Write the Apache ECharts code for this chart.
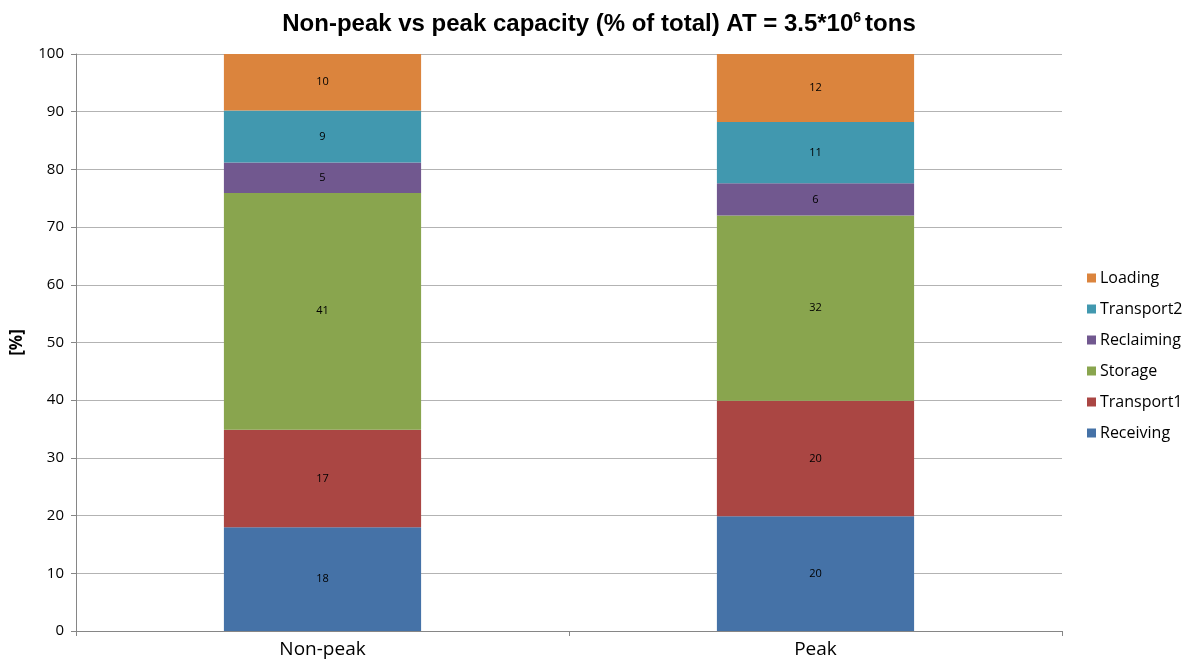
<!DOCTYPE html>
<html>
<head>
<meta charset="utf-8">
<script src="https://cdn.jsdelivr.net/npm/echarts@6/dist/echarts.min.js"></script>
<style>
html,body{margin:0;padding:0;background:#fff;}
#chart{width:1198px;height:667px;}
</style>
</head>
<body>
<div id="chart"></div>
<script>
const categories = ['Non-peak', 'Peak'];
const seriesNames = ['Receiving', 'Transport1', 'Storage', 'Reclaiming', 'Transport2', 'Loading'];
const receiving = [18.0, 19.9];
const transport1 = [16.9, 20.0];
const storage = [41.0, 32.1];
const reclaiming = [5.3, 5.6];
const transport2 = [9.0, 10.6];
const loading = [9.8, 11.8];
const yTicks = [0, 10, 20, 30, 40, 50, 60, 70, 80, 90, 100];

const colors = ['#4572A7', '#AA4643', '#89A54E', '#71588F', '#4198AF', '#DB843D'];
const values = [receiving, transport1, storage, reclaiming, transport2, loading];
const font = '"Open Sans", "Noto Sans", sans-serif';
const narrow = '"Liberation Sans Narrow", sans-serif';

const chart = echarts.init(document.getElementById('chart'));
chart.setOption({
  animation: false,
  backgroundColor: '#fff',
  title: {
    text: 'Non-peak vs peak capacity (% of total) AT = 3.5*10{sup|6}tons',
    left: 'center',
    top: 6,
    textStyle: {
      fontFamily: narrow,
      fontWeight: 'bold',
      fontSize: 24,
      color: '#000',
      rich: {
        sup: {fontFamily: narrow, fontWeight: 'bold', fontSize: 14, verticalAlign: 'top', padding: [0, 4, 12, 0], color: '#000'}
      }
    }
  },
  legend: {
    orient: 'vertical',
    left: 1082,
    top: 265,
    itemWidth: 9,
    itemHeight: 9,
    itemGap: 15,
    icon: 'rect',
    data: seriesNames.slice().reverse(),
    textStyle: {fontFamily: font, fontSize: 16, color: '#000', padding: [0, 0, 0, -1]}
  },
  grid: {left: 76, right: 136, top: 54, bottom: 36, containLabel: false},
  xAxis: {
    type: 'category',
    data: categories,
    axisLine: {lineStyle: {color: '#868686'}},
    axisTick: {show: true, alignWithLabel: false, length: 5, lineStyle: {color: '#868686'}},
    axisLabel: {fontFamily: font, fontSize: 19, color: '#000', margin: 9}
  },
  yAxis: {
    type: 'value',
    min: yTicks[0],
    max: yTicks[yTicks.length - 1],
    interval: 10,
    name: '[%]',
    nameLocation: 'middle',
    nameRotate: 90,
    nameGap: 50,
    nameTextStyle: {fontFamily: font, fontSize: 17, fontWeight: 'bold', color: '#000'},
    axisLine: {show: true, lineStyle: {color: '#868686'}},
    axisTick: {show: true, length: 5, inside: false, lineStyle: {color: '#868686'}},
    axisLabel: {fontFamily: font, fontSize: 15, color: '#000', margin: 12},
    splitLine: {lineStyle: {color: '#b3b3b3', width: 1}}
  },
  series: seriesNames.map((name, i) => ({
    name: name,
    type: 'bar',
    stack: 'total',
    data: values[i],
    barWidth: '40%',
    itemStyle: {color: colors[i]},
    label: {
      show: true,
      position: 'inside',
      fontFamily: font,
      fontSize: 11,
      color: '#000',
      formatter: p => Math.round(p.value)
    }
  }))
});
</script>
</body>
</html>
